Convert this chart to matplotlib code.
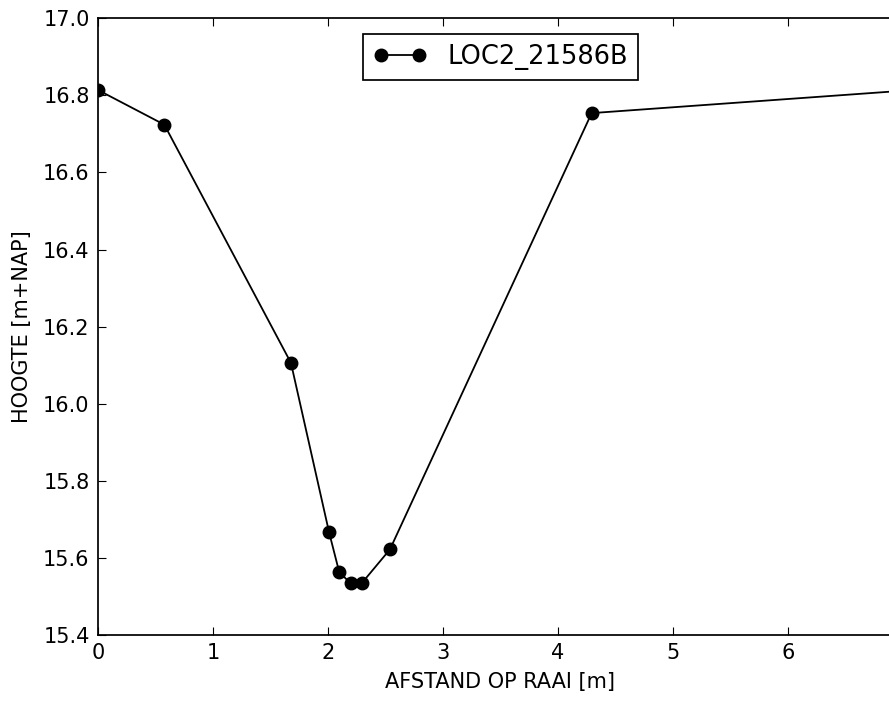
import matplotlib
matplotlib.use("Agg")
import matplotlib.pyplot as plt

# profile along the transect
afstand = [0.0, 0.577, 1.678, 2.01, 2.098, 2.197, 2.293, 2.539, 4.293, 7.0]
hoogte = [16.814, 16.724, 16.106, 15.666, 15.563, 15.534, 15.534, 15.622, 16.754, 16.812]
naam = "LOC2_21586B"

plt.rcParams["font.family"] = "DejaVu Sans"
plt.rcParams["font.size"] = 15

fig = plt.figure(figsize=(8.89, 7.01), dpi=100)
ax = fig.add_axes([0.1102, 0.0942, 0.9055, 0.8797])

ax.plot(afstand, hoogte, color="black", marker="o", markersize=9,
        linewidth=1.3, label=naam)

ax.set_xlim(0, 7)
ax.set_ylim(15.4, 17.0)
ax.set_xticks([0, 1, 2, 3, 4, 5, 6])
ax.set_yticks([15.4, 15.6, 15.8, 16.0, 16.2, 16.4, 16.6, 16.8, 17.0])
ax.set_yticklabels(["15.4", "15.6", "15.8", "16.0", "16.2", "16.4", "16.6", "16.8", "17.0"])
ax.tick_params(direction="in", top=True, right=True, length=6, width=0.8, labelsize=15, pad=6)
for s in ax.spines.values():
    s.set_linewidth(1.25)

ax.set_xlabel("AFSTAND OP RAAI [m]", fontsize=15, labelpad=6)
ax.set_ylabel("HOOGTE [m+NAP]", fontsize=15, labelpad=8)

leg = ax.legend(loc="upper center", numpoints=2, fontsize=18.5, fancybox=False,
                edgecolor="black", framealpha=1, borderaxespad=0.6,
                handlelength=2.1)
leg.get_frame().set_linewidth(1.25)

fig.savefig("out.png", dpi=100, facecolor="white")
